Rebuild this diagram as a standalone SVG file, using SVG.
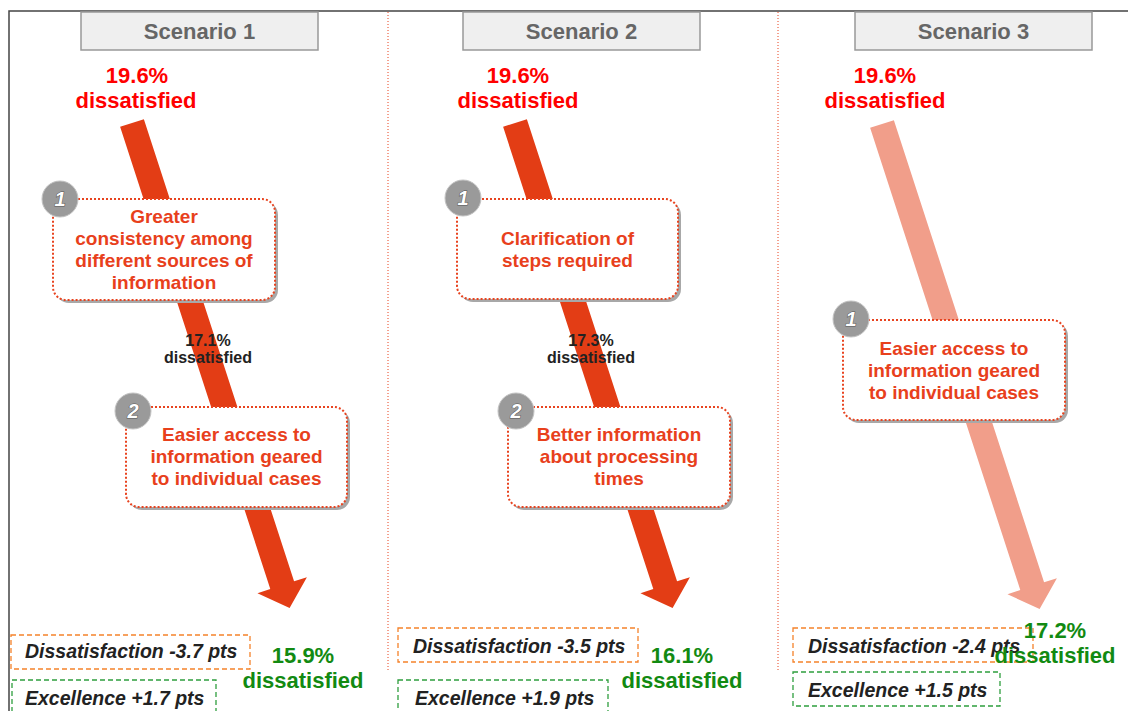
<svg xmlns="http://www.w3.org/2000/svg" width="1128" height="711" viewBox="0 0 1128 711">
<defs>
<style>
text{font-family:"Liberation Sans",Arial,sans-serif;font-weight:bold}
.title{font-size:22px;fill:#666;text-anchor:middle}
.start{font-size:22px;fill:#ff0000;text-anchor:middle}
.end{font-size:22px;fill:#128a12;text-anchor:middle}
.mid{font-size:16px;fill:#222;text-anchor:middle}
.box{font-size:19px;fill:#e8401c;text-anchor:middle}
.num{font-size:20px;font-style:italic;fill:#fff;stroke:#555;stroke-width:1;paint-order:stroke;text-anchor:middle}
.pts{font-size:19.5px;font-style:italic;fill:#222}
.hdr{fill:#efefef;stroke:#999;stroke-width:1.5}
.card{fill:#fff;stroke:#e8431f;stroke-width:2;stroke-dasharray:2 2}
.shadow{fill:#a8a8a8}
.badge{fill:#9a9a9a;stroke:#c4c4c4;stroke-width:1}
.sep{stroke:#e8431f;stroke-width:1;stroke-dasharray:1 2;fill:none}
.obox{fill:none;stroke:#f5822a;stroke-width:1.3;stroke-dasharray:5 3}
.gbox{fill:none;stroke:#2e9e3e;stroke-width:1.3;stroke-dasharray:5 3}
</style>
<polygon id="arr" points="-12.5,0 12.5,0 12.5,486 26,486 0,510 -26,486 -12.5,486"/>
</defs>
<rect width="1128" height="711" fill="#fff"/>
<path d="M9,711 V11 H1128" fill="none" stroke="#444" stroke-width="1.5"/>
<line class="sep" x1="388" y1="12" x2="388" y2="670"/>
<line class="sep" x1="778" y1="12" x2="778" y2="672"/>

<g id="connectors">
<use href="#arr" fill="#e33d15" transform="translate(132,123) rotate(-18)"/>
<use href="#arr" fill="#e33d15" transform="translate(515,123) rotate(-18)"/>
<use href="#arr" fill="#f19e8a" transform="translate(882,124) rotate(-18)"/>
</g>

<g id="s1-header"><rect class="hdr" x="81" y="12" width="237" height="38"/><text class="title" x="199.5" y="39">Scenario 1</text></g>
<g id="s2-header"><rect class="hdr" x="463" y="12" width="237" height="38"/><text class="title" x="581.5" y="39">Scenario 2</text></g>
<g id="s3-header"><rect class="hdr" x="855" y="12" width="237" height="38"/><text class="title" x="973.5" y="39">Scenario 3</text></g>

<g id="s1-start"><text class="start" x="137" y="83">19.6%</text><text class="start" x="136" y="108">dissatisfied</text></g>
<g id="s2-start"><text class="start" x="518" y="83">19.6%</text><text class="start" x="518" y="108">dissatisfied</text></g>
<g id="s3-start"><text class="start" x="885" y="83">19.6%</text><text class="start" x="885" y="108">dissatisfied</text></g>

<g id="s1-step1">
<rect class="shadow" x="56" y="202" width="222" height="101" rx="13"/>
<rect class="card" x="53" y="199" width="222" height="101" rx="13"/>
<text class="box" x="164" y="223">Greater</text>
<text class="box" x="164" y="245">consistency among</text>
<text class="box" x="164" y="267">different sources of</text>
<text class="box" x="164" y="289">information</text>
<circle class="badge" cx="60" cy="199" r="18"/><text class="num" x="60" y="206">1</text>
</g>

<g id="s1-mid"><text class="mid" x="208" y="346">17.1%</text><text class="mid" x="208" y="363">dissatisfied</text></g>

<g id="s1-step2">
<rect class="shadow" x="129" y="410" width="221" height="100" rx="13"/>
<rect class="card" x="126" y="407" width="221" height="100" rx="13"/>
<text class="box" x="236.5" y="441">Easier access to</text>
<text class="box" x="236.5" y="463">information geared</text>
<text class="box" x="236.5" y="485">to individual cases</text>
<circle class="badge" cx="133" cy="411" r="18"/><text class="num" x="133" y="418">2</text>
</g>

<g id="s2-step1">
<rect class="shadow" x="460" y="202" width="221" height="100" rx="13"/>
<rect class="card" x="457" y="199" width="221" height="100" rx="13"/>
<text class="box" x="567.5" y="245">Clarification of</text>
<text class="box" x="567.5" y="267">steps required</text>
<circle class="badge" cx="463" cy="198" r="18"/><text class="num" x="463" y="205">1</text>
</g>

<g id="s2-mid"><text class="mid" x="591" y="346">17.3%</text><text class="mid" x="591" y="363">dissatisfied</text></g>

<g id="s2-step2">
<rect class="shadow" x="511" y="410" width="222" height="100" rx="13"/>
<rect class="card" x="508" y="407" width="222" height="100" rx="13"/>
<text class="box" x="619" y="441">Better information</text>
<text class="box" x="619" y="463">about processing</text>
<text class="box" x="619" y="485">times</text>
<circle class="badge" cx="516" cy="411" r="18"/><text class="num" x="516" y="418">2</text>
</g>

<g id="s3-step1">
<rect class="shadow" x="846" y="323" width="222" height="100" rx="13"/>
<rect class="card" x="843" y="320" width="222" height="100" rx="13"/>
<text class="box" x="954" y="355">Easier access to</text>
<text class="box" x="954" y="377">information geared</text>
<text class="box" x="954" y="399">to individual cases</text>
<circle class="badge" cx="851" cy="319" r="18"/><text class="num" x="851" y="326">1</text>
</g>

<g id="s1-result">
<rect class="obox" x="11" y="635" width="239" height="34"/>
<text class="pts" x="25" y="658">Dissatisfaction -3.7 pts</text>
<rect class="gbox" x="12" y="680" width="204" height="40"/>
<text class="pts" x="25" y="705">Excellence +1.7 pts</text>
<text class="end" x="303" y="663">15.9%</text>
<text class="end" x="303" y="688">dissatisfied</text>
</g>

<g id="s2-result">
<rect class="obox" x="398" y="628" width="240" height="34"/>
<text class="pts" x="413" y="653">Dissatisfaction -3.5 pts</text>
<rect class="gbox" x="398" y="680" width="210" height="40"/>
<text class="pts" x="415" y="705">Excellence +1.9 pts</text>
<text class="end" x="682" y="663">16.1%</text>
<text class="end" x="682" y="688">dissatisfied</text>
</g>

<g id="s3-result">
<rect class="obox" x="793" y="628" width="240" height="34"/>
<text class="pts" x="808" y="653">Dissatisfaction -2.4 pts</text>
<rect class="gbox" x="793" y="672" width="207" height="34"/>
<text class="pts" x="808" y="697">Excellence +1.5 pts</text>
<text class="end" x="1055" y="638">17.2%</text>
<text class="end" x="1055" y="663">dissatisfied</text>
</g>
</svg>
